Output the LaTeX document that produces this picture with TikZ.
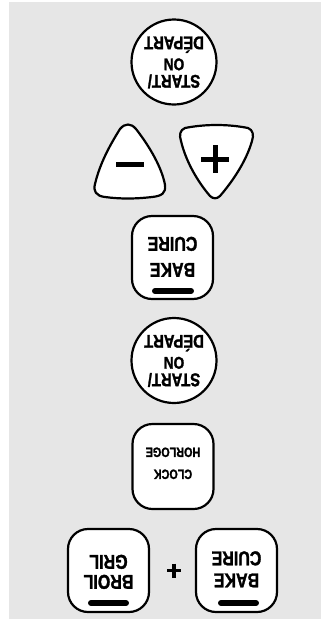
\documentclass[tikz,border=0pt]{standalone}
\usepackage{fontspec}
\newfontfamily\btnfont[FakeStretch=0.8,FakeBold=1.5]{Liberation Sans Bold}
\definecolor{panel}{RGB}{230,230,230}
\tikzset{
  key/.style={draw=black, line width=2.2pt, fill=white},
  sqkey/.style={key, rectangle, rounded corners=20pt, minimum width=81pt, minimum height=83pt, inner sep=0pt},
  rndkey/.style={key, circle, minimum size=85pt, inner sep=0pt},
  lbl/.style={rotate=180, inner sep=0pt, text height=14pt, text depth=0pt, font=\btnfont\fontsize{20}{20}\selectfont},
  lblc/.style={rotate=180, inner sep=0pt, text height=13pt, text depth=0pt, font=\btnfont\fontsize{18.5}{18.5}\selectfont},
  lblsm/.style={rotate=180, inner sep=0pt, text height=12pt, text depth=0pt, font=\btnfont\fontsize{17}{17}\selectfont},
  lblck/.style={rotate=180, inner sep=0pt, text height=9.7pt, text depth=0pt, font=\btnfont\fontsize{13.5}{13.5}\selectfont},
  ledbar/.style={line width=6pt, line cap=round},
  sign/.style={line width=5pt},
}
\begin{document}
\begin{tikzpicture}[x=1pt,y=-1pt]
\useasboundingbox (0,0) rectangle (321,630);
\fill[panel] (9,2) rectangle (321,619);

% START / ON / DEPART (top)
\node[rndkey] (start1) at (174,62) {};
\node[lblc] (start1a) at (174,43) {DÉPART};
\node[lblsm] (start1b) at (174,64.5) {ON};
\node[lblc] (start1c) at (174,81.5) {START/};

% minus / plus keys
\draw[key] (120,129) .. controls (125,123) and (131,123) .. (136,129)
  .. controls (150,147) and (162,168) .. (165,185)
  .. controls (166,193) and (162,196) .. (152,197)
  .. controls (135,199) and (120,199) .. (105,197)
  .. controls (96,196) and (93,191) .. (95,184)
  .. controls (100,163) and (110,145) .. (120,129) -- cycle;
\draw[sign] (116,164) -- (144,164);
\draw[key] (185,128) .. controls (205,124) and (228,124) .. (248,128)
  .. controls (253,130) and (254,135) .. (252,141)
  .. controls (246,162) and (232,182) .. (220,196)
  .. controls (217,199) and (213,199) .. (210,196)
  .. controls (198,182) and (186,162) .. (181,141)
  .. controls (179,135) and (180,130) .. (185,128) -- cycle;
\draw[sign] (201,159) -- (229,159);
\draw[sign] (215,145) -- (215,173);

% BAKE / CUIRE (top)
\node[sqkey] (bake1) at (172.5,257.5) {};
\node[lbl] (bake1a) at (172.5,244) {CUIRE};
\node[lbl] (bake1b) at (172.5,270) {BAKE};
\draw[ledbar] (155,291) -- (191,291);

% START / ON / DEPART (second)
\node[rndkey] (start2) at (174,360.5) {};
\node[lblc] (start2a) at (174,341.5) {DÉPART};
\node[lblsm] (start2b) at (174,363) {ON};
\node[lblc] (start2c) at (174,380) {START/};

% CLOCK / HORLOGE
\node[sqkey, minimum height=85pt] (clock) at (173,466.5) {};
\node[lblck] (clocka) at (173,452.5) {HORLOGE};
\node[lblck] (clockb) at (173,474.5) {CLOCK};

% BROIL / GRIL + BAKE / CUIRE
\node[sqkey] (broil) at (108.5,570.5) {};
\node[lbl] (broila) at (108.5,562) {GRIL};
\node[lbl] (broilb) at (108.5,582) {BROIL};
\draw[ledbar] (91,603) -- (126,603);

\node[sqkey] (bake2) at (236.5,570.5) {};
\node[lbl] (bake2a) at (236.5,558.5) {CUIRE};
\node[lbl] (bake2b) at (236.5,580.5) {BAKE};
\draw[ledbar] (221,603) -- (256,603);

\draw[line width=3.5pt] (167,570.5) -- (181,570.5);
\draw[line width=3.5pt] (174,563.5) -- (174,577.5);
\end{tikzpicture}
\end{document}
